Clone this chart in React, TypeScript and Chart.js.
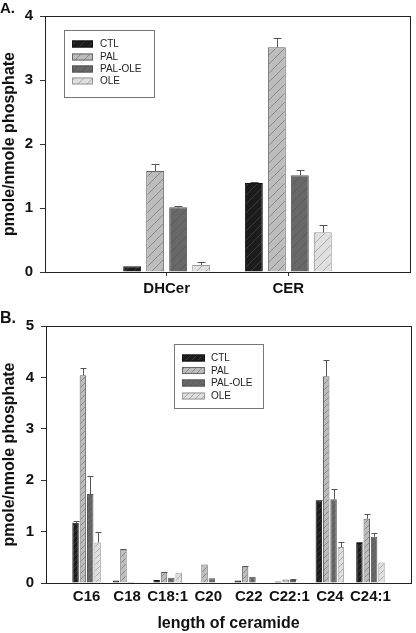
import React, { useEffect, useRef } from 'react';
import { Chart, registerables } from 'chart.js';

Chart.register(...registerables);

const seriesNames = ['CTL', 'PAL', 'PAL-OLE', 'OLE'];

// Panel A
const categoriesA = ['DHCer', 'CER'];
const ctlA = [0.09, 1.39];
const palA = [1.58, 3.51];
const palOleA = [1.01, 1.51];
const oleA = [0.11, 0.62];
const ctlErrA = [0, 0.02];
const palErrA = [0.1, 0.15];
const palOleErrA = [0.02, 0.08];
const oleErrA = [0.04, 0.11];
const yTicksA = [0, 1, 2, 3, 4];

// Panel B
const categoriesB = ['C16', 'C18', 'C18:1', 'C20', 'C22', 'C22:1', 'C24', 'C24:1'];
const ctlB = [1.17, 0.05, 0.06, 0.01, 0.05, 0.03, 1.61, 0.78];
const palB = [4.04, 0.65, 0.21, 0.36, 0.32, 0.07, 4.02, 1.25];
const palOleB = [1.73, 0.02, 0.1, 0.09, 0.12, 0.06, 1.63, 0.9];
const oleB = [0.79, 0.005, 0.2, 0, 0, 0, 0.7, 0.4];
const ctlErrB = [0.04, 0, 0, 0, 0, 0, 0.01, 0.01];
const palErrB = [0.15, 0.02, 0.01, 0, 0.01, 0, 0.31, 0.09];
const palOleErrB = [0.36, 0, 0, 0, 0, 0.01, 0.19, 0.08];
const oleErrB = [0.21, 0, 0, 0, 0, 0, 0.1, 0];
const yTicksB = [0, 1, 2, 3, 4, 5];

const FONT = "'Liberation Sans', Arial, Helvetica, sans-serif";

const fills = [
  { bg: '#1c1c1c', line: '#3a3a3a', border: '#111' },
  { bg: '#bdbdbd', line: '#8a8a8a', border: '#666' },
  { bg: '#686868', line: '#5a5a5a', border: '#555' },
  { bg: '#e0e0e0', line: '#ababab', border: '#999' },
];

function makePattern(bg: string, line: string, size: number): CanvasPattern | string {
  const c = document.createElement('canvas');
  c.width = size;
  c.height = size;
  const x = c.getContext('2d');
  if (!x) return bg;
  x.fillStyle = bg;
  x.fillRect(0, 0, size, size);
  x.strokeStyle = line;
  x.lineWidth = 1;
  x.beginPath();
  x.moveTo(0, size);
  x.lineTo(size, 0);
  x.moveTo(-2, 2);
  x.lineTo(2, -2);
  x.moveTo(size - 2, size + 2);
  x.lineTo(size + 2, size - 2);
  x.stroke();
  const p = x.createPattern(c, 'repeat');
  return p || bg;
}

const pad = (arr: any[]) => [null, ...arr, null];

interface PanelCfg {
  categories: string[];
  values: number[][];
  errors: number[][];
  yMax: number;
  yTicks: number[];
  height: number;
  yAxisWidth: number;
  xAxisHeight: number;
  padTop: number;
  padRight: number;
  catPct: number;
  barPct: number;
  hatch: number;
  capW: number;
  xTickMarks: boolean;
  xTickPadding: number;
  xTitle: string | null;
  legend: { x: number; y: number; w: number; h: number; swX: number; swW: number; textX: number; rows: number[] };
}

function buildChart(canvas: HTMLCanvasElement, cfg: PanelCfg) {
  const ctx = canvas.getContext('2d')!;
  const patterns = fills.map((f) => makePattern(f.bg, f.line, cfg.hatch));
  const labels = ['', ...cfg.categories, ''];
  const nLabels = labels.length;

  const datasets = seriesNames.map((name, i) => ({
    label: name,
    data: pad(cfg.values[i]),
    errors: pad(cfg.errors[i]),
    backgroundColor: patterns[i],
    borderColor: fills[i].border,
    borderWidth: 1,
    categoryPercentage: cfg.catPct,
    barPercentage: cfg.barPct,
  }));

  const errorPlugin = {
    id: 'errorBars',
    afterDatasetsDraw(chart: any) {
      const c = chart.ctx;
      const ys = chart.scales.y;
      c.save();
      c.strokeStyle = '#555';
      c.lineWidth = 1;
      chart.data.datasets.forEach((ds: any, di: number) => {
        const meta = chart.getDatasetMeta(di);
        meta.data.forEach((el: any, j: number) => {
          const v = ds.data[j];
          const e = ds.errors[j];
          if (v == null || !e) return;
          const yTop = Math.round(ys.getPixelForValue(v + e)) + 0.5;
          const x = Math.round(el.x) + 0.5;
          c.beginPath();
          c.moveTo(x, el.y);
          c.lineTo(x, yTop);
          c.moveTo(x - cfg.capW / 2, yTop);
          c.lineTo(x + cfg.capW / 2, yTop);
          c.stroke();
        });
      });
      c.restore();
    },
  };

  const framePlugin = {
    id: 'frame',
    afterDraw(chart: any) {
      const c = chart.ctx;
      const a = chart.chartArea;
      c.save();
      c.strokeStyle = '#222';
      c.lineWidth = 1;
      c.strokeRect(Math.round(a.left) + 0.5, Math.round(a.top) + 0.5, Math.round(a.right - a.left), Math.round(a.bottom - a.top));
      // legend
      const L = cfg.legend;
      c.fillStyle = '#fff';
      c.fillRect(L.x, L.y, L.w, L.h);
      c.strokeStyle = '#777';
      c.strokeRect(L.x + 0.5, L.y + 0.5, L.w, L.h);
      c.font = `10px ${FONT}`;
      c.textBaseline = 'middle';
      c.textAlign = 'left';
      seriesNames.forEach((name, i) => {
        const cy = L.rows[i];
        c.fillStyle = patterns[i];
        c.fillRect(L.swX, cy - 3.5, L.swW, 7);
        c.strokeStyle = fills[i].border;
        c.strokeRect(L.swX + 0.5, cy - 3.5 + 0.5, L.swW - 1, 6);
        c.fillStyle = '#222';
        c.fillText(name, L.textX, cy + 0.5);
      });
      c.restore();
    },
  };

  return new Chart(ctx, {
    type: 'bar',
    data: { labels, datasets: datasets as any },
    plugins: [errorPlugin, framePlugin],
    options: {
      responsive: false,
      animation: false,
      layout: { padding: { top: cfg.padTop, right: cfg.padRight, left: 0, bottom: 0 } },
      plugins: { legend: { display: false }, tooltip: { enabled: false } },
      scales: {
        x: {
          type: 'category',
          offset: false,
          afterFit: (s: any) => {
            s.height = cfg.xAxisHeight;
          },
          grid: {
            offset: false,
            display: cfg.xTickMarks,
            drawOnChartArea: false,
            drawTicks: cfg.xTickMarks,
            tickLength: 4,
            color: (c: any) => (c.index === 0 || c.index === nLabels - 1 ? 'rgba(0,0,0,0)' : '#333'),
          },
          border: { display: true, color: '#222' },
          ticks: {
            autoSkip: false,
            maxRotation: 0,
            padding: cfg.xTickPadding,
            color: '#111',
            font: { family: FONT, size: 15, weight: 'bold' },
          },
          title: cfg.xTitle
            ? {
                display: true,
                text: cfg.xTitle,
                color: '#111',
                padding: { top: 0, bottom: 0 },
                font: { family: FONT, size: 16, weight: 'bold' },
              }
            : { display: false },
        },
        y: {
          min: 0,
          max: cfg.yMax,
          afterFit: (s: any) => {
            s.width = cfg.yAxisWidth;
          },
          afterBuildTicks: (s: any) => {
            s.ticks = cfg.yTicks.map((v) => ({ value: v }));
          },
          grid: {
            display: true,
            drawOnChartArea: false,
            drawTicks: true,
            tickLength: 5,
            color: '#333',
          },
          border: { display: true, color: '#222' },
          ticks: {
            padding: 7,
            color: '#111',
            font: { family: FONT, size: 15, weight: 'bold' },
          },
          title: {
            display: true,
            text: 'pmole/nmole phosphate',
            color: '#111',
            padding: { top: 0, bottom: 0 },
            font: { family: FONT, size: 16, weight: 'bold' },
          },
        },
      },
    } as any,
  });
}

export default function App() {
  const refA = useRef<HTMLCanvasElement>(null);
  const refB = useRef<HTMLCanvasElement>(null);

  useEffect(() => {
    const chartA = buildChart(refA.current!, {
      categories: categoriesA,
      values: [ctlA, palA, palOleA, oleA],
      errors: [ctlErrA, palErrA, palOleErrA, oleErrA],
      yMax: 4,
      yTicks: yTicksA,
      height: 300,
      yAxisWidth: 45,
      xAxisHeight: 28,
      padTop: 12,
      padRight: 6,
      catPct: 0.756,
      barPct: 0.78,
      hatch: 9,
      capW: 8,
      xTickMarks: true,
      xTickPadding: 4,
      xTitle: null,
      legend: { x: 64, y: 30, w: 90, h: 67, swX: 72, swW: 21, textX: 100, rows: [44, 57, 69, 81] },
    });
    const chartB = buildChart(refB.current!, {
      categories: categoriesB,
      values: [ctlB, palB, palOleB, oleB],
      errors: [ctlErrB, palErrB, palOleErrB, oleErrB],
      yMax: 5,
      yTicks: yTicksB,
      height: 333,
      yAxisWidth: 46,
      xAxisHeight: 50,
      padTop: 26,
      padRight: 3,
      catPct: 0.725,
      barPct: 0.88,
      hatch: 6,
      capW: 6,
      xTickMarks: false,
      xTickPadding: 5,
      xTitle: 'length of ceramide',
      legend: { x: 174, y: 44, w: 89, h: 64, swX: 182, swW: 23, textX: 211, rows: [58, 70.5, 83, 96] },
    });
    return () => {
      chartA.destroy();
      chartB.destroy();
    };
  }, []);

  const labelStyle: React.CSSProperties = {
    position: 'absolute',
    left: 0,
    fontFamily: FONT,
    fontWeight: 'bold',
    lineHeight: '18px',
    color: '#111',
  };

  return (
    <div style={{ position: 'absolute', top: 0, left: 0, width: 416, height: 633, background: '#fff', overflow: 'hidden' }}>
      <canvas ref={refA} width={416} height={300} style={{ position: 'absolute', top: 0, left: 0, width: 416, height: 300 }} />
      <canvas ref={refB} width={416} height={333} style={{ position: 'absolute', top: 300, left: 0, width: 416, height: 333 }} />
      <div style={{ ...labelStyle, top: -1, fontSize: 15 }}>A.</div>
      <div style={{ ...labelStyle, top: 309, fontSize: 16 }}>B.</div>
    </div>
  );
}
